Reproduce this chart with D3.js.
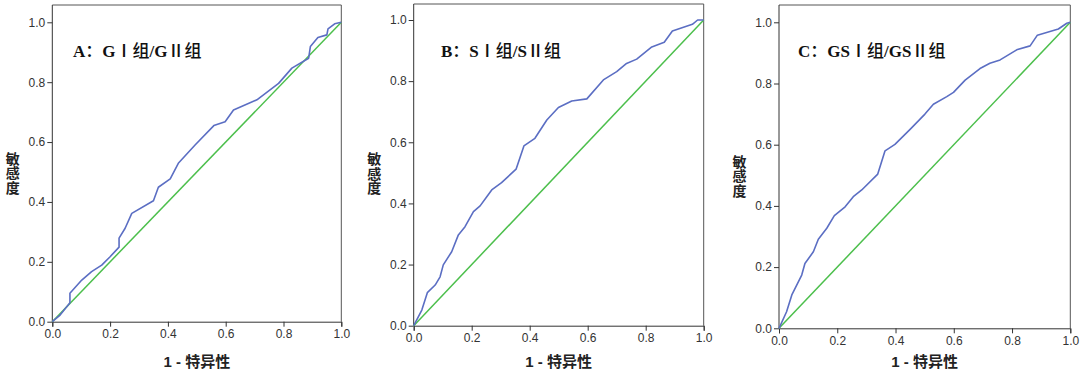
<!DOCTYPE html>
<html><head><meta charset="utf-8">
<script src="https://cdn.jsdelivr.net/npm/d3@7"></script>
<style>
body{margin:0;background:#fff;}
svg{display:block;}
</style></head>
<body>
<svg id="c" width="1080" height="380"></svg>
<script>
// ---- data ----
const titles = ["A：GⅠ组/GⅡ组", "B：SⅠ组/SⅡ组", "C：GSⅠ组/GSⅡ组"];
const xLabel = "1 - 特异性";
const yLabel = "敏感度";
const tickValues = [0, 0.2, 0.4, 0.6, 0.8, 1.0];

const rocA_fpr  = [0,0.027,0.061,0.061,0.102,0.136,0.171,0.2,0.231,0.231,0.252,0.275,0.35,0.367,0.408,0.436,0.494,0.559,0.598,0.627,0.708,0.783,0.829,0.887,0.893,0.919,0.95,0.954,0.977,1];
const rocA_tpr  = [0,0.022,0.063,0.095,0.139,0.167,0.189,0.217,0.249,0.279,0.312,0.362,0.404,0.449,0.477,0.529,0.59,0.655,0.668,0.707,0.741,0.796,0.847,0.88,0.919,0.949,0.958,0.978,0.995,1];

const rocB_fpr  = [0,0.028,0.047,0.074,0.091,0.102,0.131,0.154,0.177,0.206,0.229,0.252,0.269,0.303,0.353,0.38,0.418,0.459,0.499,0.545,0.597,0.654,0.7,0.734,0.769,0.821,0.864,0.892,0.961,0.979,1];
const rocB_tpr  = [0,0.051,0.108,0.133,0.16,0.199,0.242,0.297,0.324,0.373,0.392,0.422,0.444,0.468,0.512,0.588,0.613,0.673,0.714,0.735,0.742,0.804,0.831,0.858,0.872,0.912,0.927,0.964,0.986,1,1];

const rocC_fpr  = [0,0.026,0.044,0.078,0.089,0.118,0.135,0.164,0.19,0.227,0.255,0.284,0.339,0.364,0.398,0.45,0.501,0.53,0.576,0.599,0.639,0.69,0.724,0.759,0.816,0.862,0.887,0.959,0.988,1];
const rocC_tpr  = [0,0.054,0.109,0.174,0.212,0.25,0.291,0.327,0.368,0.397,0.43,0.452,0.504,0.58,0.601,0.65,0.7,0.732,0.757,0.771,0.811,0.849,0.866,0.877,0.91,0.923,0.958,0.978,0.997,1];

const refLine = [0, 1];

// ---- layout (pixels) ----
const panels = [
  {left:52.3,  right:341.3,  y0:321.7, y1:22.3, top:5,   titleX:73,  fpr:rocA_fpr, tpr:rocA_tpr, title:titles[0]},
  {left:413.7, right:703.7,  y0:325.7, y1:20,   top:4,   titleX:441, fpr:rocB_fpr, tpr:rocB_tpr, title:titles[1]},
  {left:779,   right:1070.3, y0:328.3, y1:22.3, top:5,   titleX:798, fpr:rocC_fpr, tpr:rocC_tpr, title:titles[2]}
];

const svg = d3.select("#c");
const blue = "#5b6ec3", green = "#4cbf4c";
const tickFont = "'Liberation Sans', Arial, sans-serif";
const serifFont = "'Liberation Serif','Times New Roman',serif";
const cjkFont = "'Noto Sans CJK SC',sans-serif";

panels.forEach(p => {
  const x = d3.scaleLinear().domain([0,1]).range([p.left, p.right]);
  const y = d3.scaleLinear().domain([0,1]).range([p.y0, p.y1]);
  const g = svg.append("g");

  // frame (top & right)
  g.append("path")
    .attr("d", `M${p.left},${p.top}H${p.right}V${p.y0}`)
    .attr("fill","none").attr("stroke","#555").attr("stroke-width",1);

  // axes
  const xAxis = d3.axisBottom(x).tickValues(tickValues).tickFormat(d3.format(".1f")).tickSizeOuter(0).tickSize(5).tickPadding(3);
  const yAxis = d3.axisLeft(y).tickValues(tickValues).tickFormat(d3.format(".1f")).tickSizeOuter(0).tickSize(5).tickPadding(2);
  const gx = g.append("g").attr("transform",`translate(0,${p.y0})`).call(xAxis);
  const gy = g.append("g").attr("transform",`translate(${p.left},0)`).call(yAxis);
  gy.select(".domain").attr("d", `M0,${p.y0}V${p.top}`);
  [gx,gy].forEach(a => {
    a.selectAll("path,line").attr("stroke","#333");
    a.selectAll("text").attr("font-family",tickFont).attr("font-size",12).attr("fill","#333");
  });

  // reference diagonal
  const line = d3.line().x(d=>x(d[0])).y(d=>y(d[1]));
  g.append("path").datum(refLine.map(v=>[v,v]))
    .attr("d", line).attr("fill","none").attr("stroke",green).attr("stroke-width",1.5);

  // ROC curve
  const pts = p.fpr.map((v,i)=>[v,p.tpr[i]]);
  g.append("path").datum(pts)
    .attr("d", line).attr("fill","none").attr("stroke",blue).attr("stroke-width",1.6).attr("stroke-linejoin","round");

  // title: Latin in serif, full-width/CJK glyphs in CJK font
  const t = g.append("text").attr("x",p.titleX).attr("y",57)
    .attr("font-weight","bold").attr("font-size",17).attr("fill","#111");
  Array.from(p.title).forEach(ch => {
    const wide = ch.charCodeAt(0) > 0x2000;
    t.append("tspan").attr("font-family", wide ? cjkFont : serifFont)
      .attr("font-weight", wide ? 500 : "bold").text(ch);
  });

  // x label
  g.append("text").attr("x",(p.left+p.right)/2).attr("y",367)
    .attr("text-anchor","middle")
    .attr("font-family","'Liberation Sans','Noto Sans CJK SC',sans-serif")
    .attr("font-weight","bold").attr("font-size",15).attr("fill","#222")
    .text(xLabel);

  // y label (stacked upright characters)
  const cx = p.left - 39.5, cy = (p.y0 + p.y1)/2;
  const chars = Array.from(yLabel);
  chars.forEach((ch,i) => {
    g.append("text")
      .attr("x",cx).attr("y", cy + (i - (chars.length-1)/2) * 14.5)
      .attr("dominant-baseline","central")
      .attr("text-anchor","middle")
      .attr("font-family",cjkFont)
      .attr("font-weight","bold").attr("font-size",14).attr("fill","#222")
      .text(ch);
  });
});
</script>
</body></html>
